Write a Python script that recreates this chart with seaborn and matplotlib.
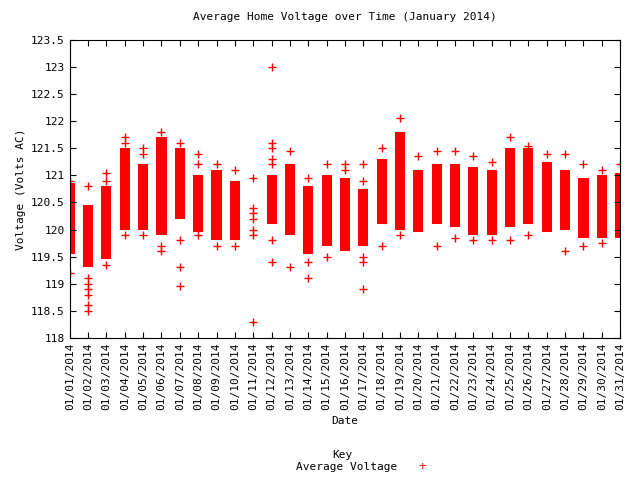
import matplotlib
matplotlib.use("Agg")
import matplotlib.pyplot as plt
import seaborn as sns
import pandas as pd

dates = [f"01/{d:02d}/2014" for d in range(1, 32)]
dense_low = [119.55,119.3,119.45,120.0,120.0,119.9,120.2,119.95,119.8,119.8,120.1,120.1,119.9,119.55,119.7,119.6,119.7,120.1,120.0,119.95,120.1,120.05,119.9,119.9,120.05,120.1,119.95,120.0,119.85,119.85,119.85]
dense_high = [120.85,120.45,120.8,121.5,121.2,121.7,121.5,121.0,121.1,120.9,120.1,121.0,121.2,120.8,121.0,120.95,120.75,121.3,121.8,121.1,121.2,121.2,121.15,121.1,121.5,121.5,121.25,121.1,120.95,121.0,121.05]
outliers = [
    [119.2,120.9],[118.5,118.6,118.8,118.9,119.0,119.1,120.8],[119.35,120.9,121.05],
    [119.9,121.6,121.7],[119.9,121.4,121.5],[119.6,119.7,121.8],[118.95,119.3,119.8,121.6],
    [119.9,121.2,121.4],[119.7,121.2],[119.7,121.1],
    [118.3,119.9,120.0,120.2,120.3,120.4,120.95],
    [119.4,119.8,121.2,121.3,121.5,121.6,123.0],[119.3,121.45],[119.1,119.4,120.95],
    [119.5,121.2],[121.1,121.2],[118.9,119.4,119.5,120.9,121.2],[119.7,121.5],
    [119.9,122.05],[121.35],[119.7,121.45],[119.85,121.45],[119.8,121.35],[119.8,121.25],
    [119.8,121.7],[119.9,121.55],[121.4],[119.6,121.4],[119.7,121.2],[119.75,121.1],[121.2],
]

rows = [(i, v) for i, vals in enumerate(outliers) for v in vals]
df = pd.DataFrame(rows, columns=["day", "volt"])

font = "DejaVu Sans Mono"
plt.rcParams["font.family"] = font
plt.rcParams["font.size"] = 8
fig = plt.figure(figsize=(6.4, 4.8), dpi=100)
ax = fig.add_axes([0.109, 0.296, 0.86, 0.621])
idx = list(range(len(dates)))
heights = [h - l for l, h in zip(dense_low, dense_high)]
ax.bar(idx, heights, bottom=dense_low, width=0.55, color="red", edgecolor="none")
sns.scatterplot(data=df, x="day", y="volt", marker="+", color="red", s=30, linewidth=1, ax=ax, legend=False)
ax.set_xlim(0, 30)
ax.set_ylim(118, 123.5)
ax.set_xticks(idx)
ax.set_xticklabels(dates, rotation=90)
yt = [118 + 0.5 * k for k in range(12)]
ax.set_yticks(yt)
ax.set_yticklabels([f"{v:g}" for v in yt])
ax.tick_params(direction="in", top=True, right=True, length=4)
ax.set_xlabel("Date")
ax.set_ylabel("Voltage (Volts AC)")
ax.set_title("Average Home Voltage over Time (January 2014)", fontsize=8, pad=14)
fig.text(0.535, 0.045, "Key", ha="center", fontsize=8)
fig.text(0.62, 0.02, "Average Voltage", ha="right", fontsize=8)
fig.text(0.62 + 0.04, 0.02, "+", ha="center", color="red", fontsize=9)
fig.savefig("out.png", dpi=100)
